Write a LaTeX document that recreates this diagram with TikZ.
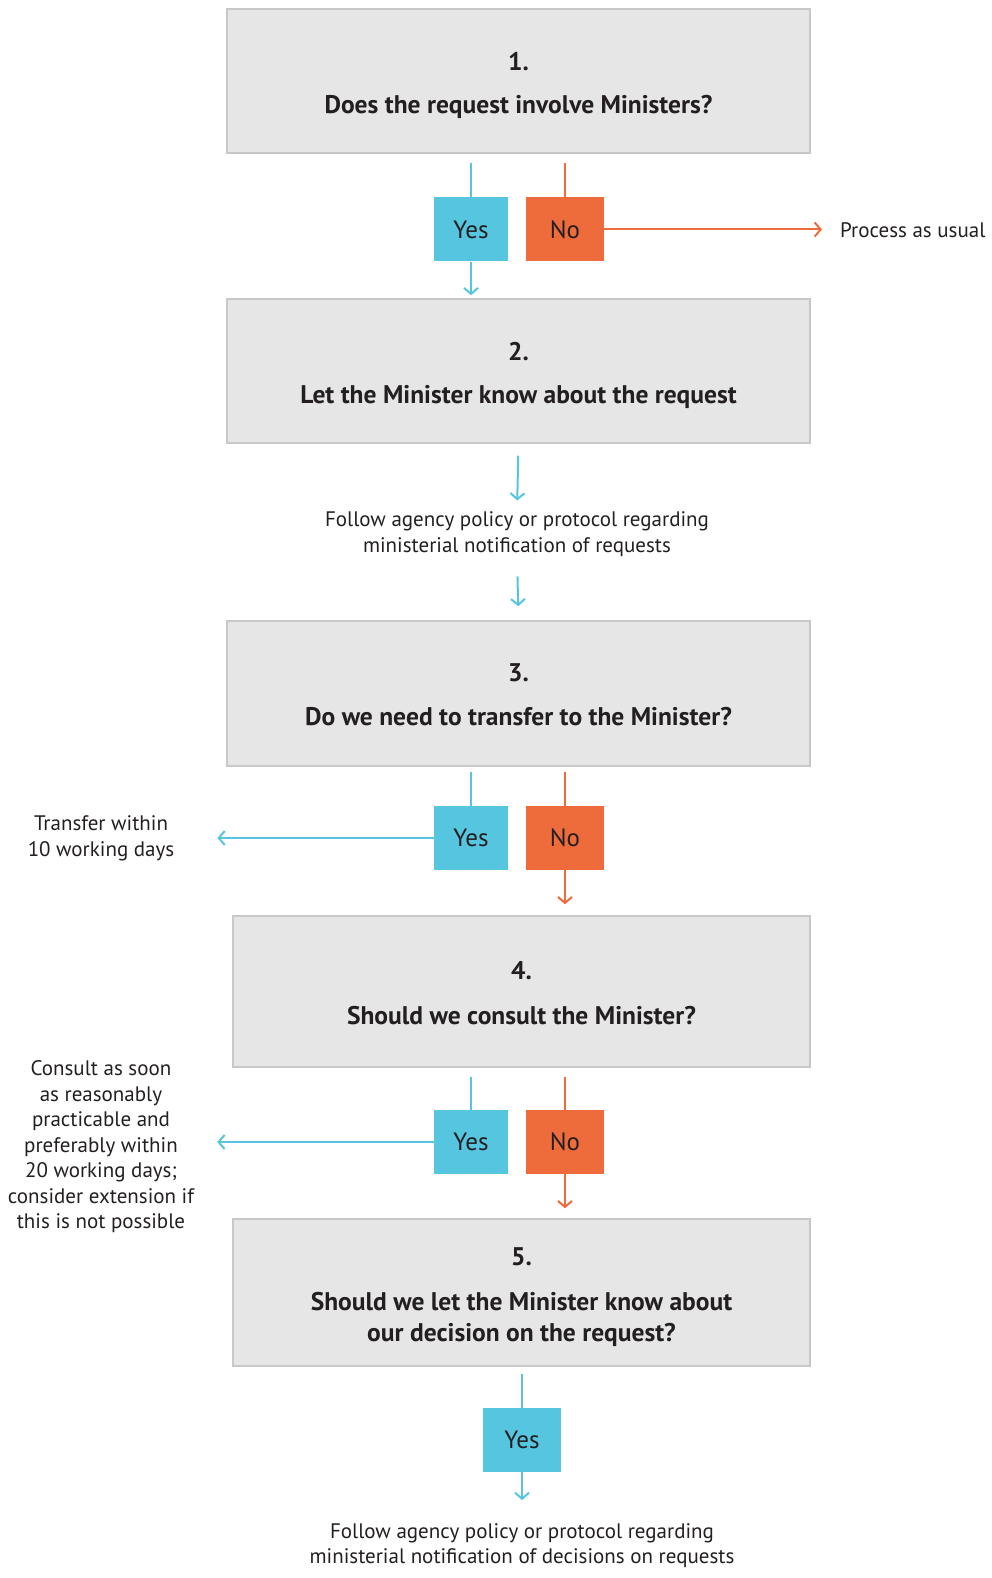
\documentclass[tikz,border=0pt]{standalone}
\usepackage{fontspec}
\setmainfont{PT Sans}
\usetikzlibrary{arrows.meta}
\definecolor{cblue}{HTML}{56C5DF}
\definecolor{corange}{HTML}{EE6B3B}
\definecolor{cgrey}{HTML}{E6E6E6}
\definecolor{cborder}{HTML}{C8C8C8}
\definecolor{ctext}{HTML}{231F20}
\begin{document}
\begin{tikzpicture}[x=1pt,y=-1pt,
 stepbox/.style={draw=cborder, fill=cgrey, line width=1.5pt, minimum width=583pt, minimum height=144pt, inner sep=0pt},
 steptext/.style={inner sep=0pt, text=ctext, align=center, font=\fontsize{25.5}{31}\selectfont\bfseries},
 yesbox/.style={fill=cblue, minimum width=74pt, minimum height=64pt, inner sep=0pt, text=ctext, font=\fontsize{25}{28}\selectfont},
 nobox/.style={yesbox, fill=corange, minimum width=78pt},
 bline/.style={draw=cblue, line width=2pt},
 oline/.style={draw=corange, line width=2pt},
 tip/.style={-{Straight Barb[length=6pt,width=14pt]}},
 note/.style={text=ctext, align=center, font=\fontsize{21}{25.5}\selectfont, inner sep=0pt}
]
\useasboundingbox (0,0) rectangle (991,1578);

% step boxes
\node[stepbox] (b1) at (518.5,81) {};
\node[stepbox] (b2) at (518.5,371) {};
\node[stepbox, minimum height=145pt] (b3) at (518.5,693.5) {};
\node[stepbox, minimum width=577pt, minimum height=151pt] (b4) at (521.5,991.5) {};
\node[stepbox, minimum width=577pt, minimum height=147pt] (b5) at (521.5,1292.5) {};

% step texts
\node[steptext] (s1) at ([yshift=-4.5pt]b1.center) {1.\\[12pt]Does the request involve Ministers?};
\node[steptext] (s2) at ([yshift=-4.5pt]b2.center) {2.\\[12pt]Let the Minister know about the request};
\node[steptext] (s3) at ([yshift=-1pt]b3.center) {3.\\[13pt]Do we need to transfer to the Minister?};
\node[steptext] (s4) at ([yshift=-2pt]b4.center) {4.\\[14pt]Should we consult the Minister?};
\node[steptext] (s5) at ([yshift=-4.5pt]b5.center) {5.\\[14pt]Should we let the Minister know about\\our decision on the request?};

% yes / no boxes
\node[yesbox] (y1) at (471,229.5) {Yes};
\node[nobox] (n1) at (565,229.5) {No};
\node[yesbox] (y2) at (471,838) {Yes};
\node[nobox] (n2) at (565,838) {No};
\node[yesbox] (y3) at (471,1142) {Yes};
\node[nobox] (n3) at (565,1142) {No};
\node[yesbox, minimum width=78pt] (y4) at (522,1440) {Yes};

% notes
\node[note, anchor=west] (p1) at (840,230) {Process as usual};
\node[note] (t2) at (517,534) {Follow agency policy or protocol regarding\\ministerial notification of requests};
\node[note] (t3) at (101,838.5) {Transfer within\\10 working days};
\node[note] (t4) at (101,1147) {Consult as soon\\as reasonably\\practicable and\\preferably within\\20 working days;\\consider extension if\\this is not possible};
\node[note] (t5) at (522,1545.5) {Follow agency policy or protocol regarding\\ministerial notification of decisions on requests};

% connectors step 1
\draw[bline, shorten <=9pt] (b1.south -| y1) -- (y1.north);
\draw[oline, shorten <=9pt] (b1.south -| n1) -- (n1.north);
\draw[bline, tip, shorten >=3pt] (y1.south) -- (y1.south |- b2.north);
\draw[oline, tip, shorten >=18pt] (n1.east) -- (n1.east -| p1.west);

% step 2
\draw[bline, tip, shorten <=12pt, shorten >=11pt] (b2.south) -- (t2.north);
\draw[bline, tip, shorten <=20pt, shorten >=14pt] (t2.south) -- (b3.north);

% step 3
\draw[bline, shorten <=5pt] (b3.south -| y2) -- (y2.north);
\draw[oline, shorten <=5pt] (b3.south -| n2) -- (n2.north);
\draw[bline, tip, shorten >=43pt] (y2.west) -- (t3.east |- y2.west);
\draw[oline, tip, shorten >=11pt] (n2.south) -- (n2.south |- b4.north);

% step 4
\draw[bline, shorten <=9pt] (b4.south -| y3) -- (y3.north);
\draw[oline, shorten <=9pt] (b4.south -| n3) -- (n3.north);
\draw[bline, tip, shorten >=23pt] (y3.west) -- (t4.east |- y3.west);
\draw[oline, tip, shorten >=10pt] (n3.south) -- (n3.south |- b5.north);

% step 5
\draw[bline, shorten <=7pt] (b5.south -| y4) -- (y4.north);
\draw[bline, tip, shorten >=23pt] (y4.south) -- (t5.north);
\end{tikzpicture}
\end{document}
